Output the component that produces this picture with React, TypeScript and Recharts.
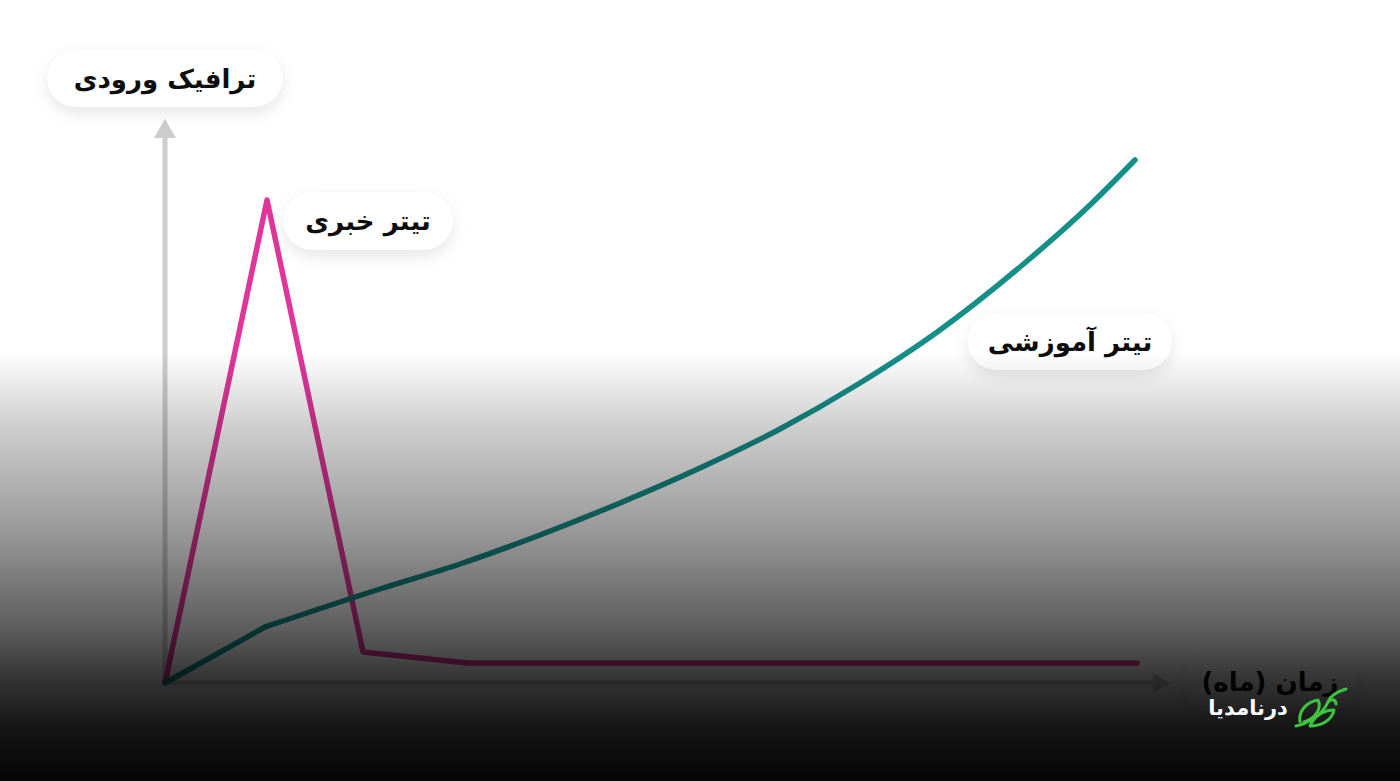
import React from "react";
import { LineChart, Line, XAxis, YAxis, ReferenceLine, ReferenceDot } from "recharts";

// x = months (1 unit), y = incoming traffic (arbitrary units)
const pinkX = [0, 1.02, 1.98, 3.02, 9.72];
const pinkY = [0, 483, 31, 20, 20];

const tealStartX = [0, 1.0];
const tealStartY = [0, 56];

const tealCurveX = [1.0, 2.15, 2.95, 3.75, 4.55, 5.35, 6.15, 6.95, 7.75, 8.55, 9.25, 9.7];
const tealCurveY = [56, 94, 119, 148, 180, 215, 254, 300, 353, 416, 478, 523];

const X_MAX = 9.9;
const Y_MAX = 547;

const yAxisLabel = "ترافیک ورودی";
const xAxisLabel = "زمان (ماه)";
const newsLabel = "تیتر خبری";
const eduLabel = "تیتر آموزشی";
const brand = "درنامدیا";

const zip = (xs: number[], ys: number[]) => xs.map((x, i) => ({ x, y: ys[i] }));

const pinkData = zip(pinkX, pinkY);
const tealStart = zip(tealStartX, tealStartY);
const tealCurve = zip(tealCurveX, tealCurveY);

const FONT = "'DejaVu Sans', 'Noto Sans', sans-serif";
const AXIS_COLOR = "#cdcdcd";

const pillStyle = (left: number, top: number, width: number, height: number): React.CSSProperties => ({
  position: "absolute",
  left,
  top,
  width,
  height,
  borderRadius: height / 2,
  background: "#ffffff",
  boxShadow: "0 6px 16px rgba(0,0,0,0.10)",
  display: "flex",
  alignItems: "center",
  justifyContent: "center",
  fontFamily: FONT,
  fontWeight: 700,
  fontSize: 26,
  color: "#0d0d0d",
  direction: "rtl",
  whiteSpace: "nowrap",
});

const ArrowRight = (props: any) => {
  const { cx, cy } = props;
  return <polygon points={`${cx - 2},${cy - 10} ${cx + 15},${cy} ${cx - 2},${cy + 10}`} fill={AXIS_COLOR} />;
};

const ArrowUp = (props: any) => {
  const { cx, cy } = props;
  return <polygon points={`${cx - 11},${cy + 2} ${cx},${cy - 17} ${cx + 11},${cy + 2}`} fill={AXIS_COLOR} />;
};

export default function App() {
  return (
    <div style={{ position: "fixed", left: 0, top: 0, width: 1400, height: 781, background: "#fff", overflow: "hidden" }}>
      <LineChart width={1400} height={781} margin={{ top: 136, right: 245, bottom: 98, left: 165 }}>
        <XAxis type="number" dataKey="x" domain={[0, X_MAX]} hide />
        <YAxis type="number" dataKey="y" domain={[0, Y_MAX]} hide />
        <ReferenceLine segment={[{ x: 0, y: 0 }, { x: X_MAX, y: 0 }]} stroke={AXIS_COLOR} strokeWidth={5} />
        <ReferenceLine segment={[{ x: 0, y: 0 }, { x: 0, y: Y_MAX }]} stroke={AXIS_COLOR} strokeWidth={5} />
        <ReferenceDot x={X_MAX} y={0} r={1} shape={ArrowRight} />
        <ReferenceDot x={0} y={Y_MAX} r={1} shape={ArrowUp} />
        <Line
          data={pinkData}
          dataKey="y"
          type="linear"
          stroke="#e0369b"
          strokeWidth={5.5}
          strokeLinejoin="round"
          strokeLinecap="round"
          dot={false}
          activeDot={false}
          isAnimationActive={false}
        />
        <Line
          data={tealStart}
          dataKey="y"
          type="linear"
          stroke="#168f89"
          strokeWidth={5.5}
          strokeLinecap="round"
          dot={false}
          activeDot={false}
          isAnimationActive={false}
        />
        <Line
          data={tealCurve}
          dataKey="y"
          type="monotone"
          stroke="#168f89"
          strokeWidth={5.5}
          strokeLinecap="round"
          dot={false}
          activeDot={false}
          isAnimationActive={false}
        />
      </LineChart>

      <div style={pillStyle(47, 50, 236, 57)}>{yAxisLabel}</div>
      <div style={pillStyle(283, 192, 170, 58)}>{newsLabel}</div>
      <div style={pillStyle(968, 313, 204, 57)}>{eduLabel}</div>
      <div style={pillStyle(1183, 652, 174, 60)}>{xAxisLabel}</div>

      <div
        style={{
          position: "absolute",
          left: 0,
          top: 0,
          width: 1400,
          height: 781,
          pointerEvents: "none",
          background:
            "linear-gradient(to bottom, rgba(0,0,0,0) 0px, rgba(0,0,0,0) 352px, rgba(0,0,0,0.2) 430px, rgba(0,0,0,0.4) 530px, rgba(0,0,0,0.64) 630px, rgba(0,0,0,0.8) 680px, rgba(0,0,0,0.92) 730px, rgba(0,0,0,0.98) 781px)",
        }}
      />

      <div
        style={{
          position: "absolute",
          left: 1200,
          top: 693,
          width: 96,
          height: 30,
          display: "flex",
          alignItems: "center",
          justifyContent: "center",
          color: "#ffffff",
          fontFamily: FONT,
          fontWeight: 700,
          fontSize: 21,
          direction: "rtl",
          whiteSpace: "nowrap",
        }}
      >
        {brand}
      </div>
      <svg style={{ position: "absolute", left: 1292, top: 686 }} width={58} height={44} viewBox="0 0 58 44">
        <g fill="none" stroke="#3fc43f" strokeWidth={3} strokeLinecap="round" strokeLinejoin="round">
          <path d="M4 40 C 14 38, 30 30, 36 16 C 38 10, 44 6, 54 3" />
          <path d="M8 36 C 6 26, 14 16, 26 14 C 30 22, 24 32, 12 36" />
          <path d="M18 40 C 22 30, 32 24, 42 24 C 40 34, 30 40, 18 40" />
          <path d="M36 16 C 40 12, 44 14, 44 18" />
        </g>
      </svg>
    </div>
  );
}
